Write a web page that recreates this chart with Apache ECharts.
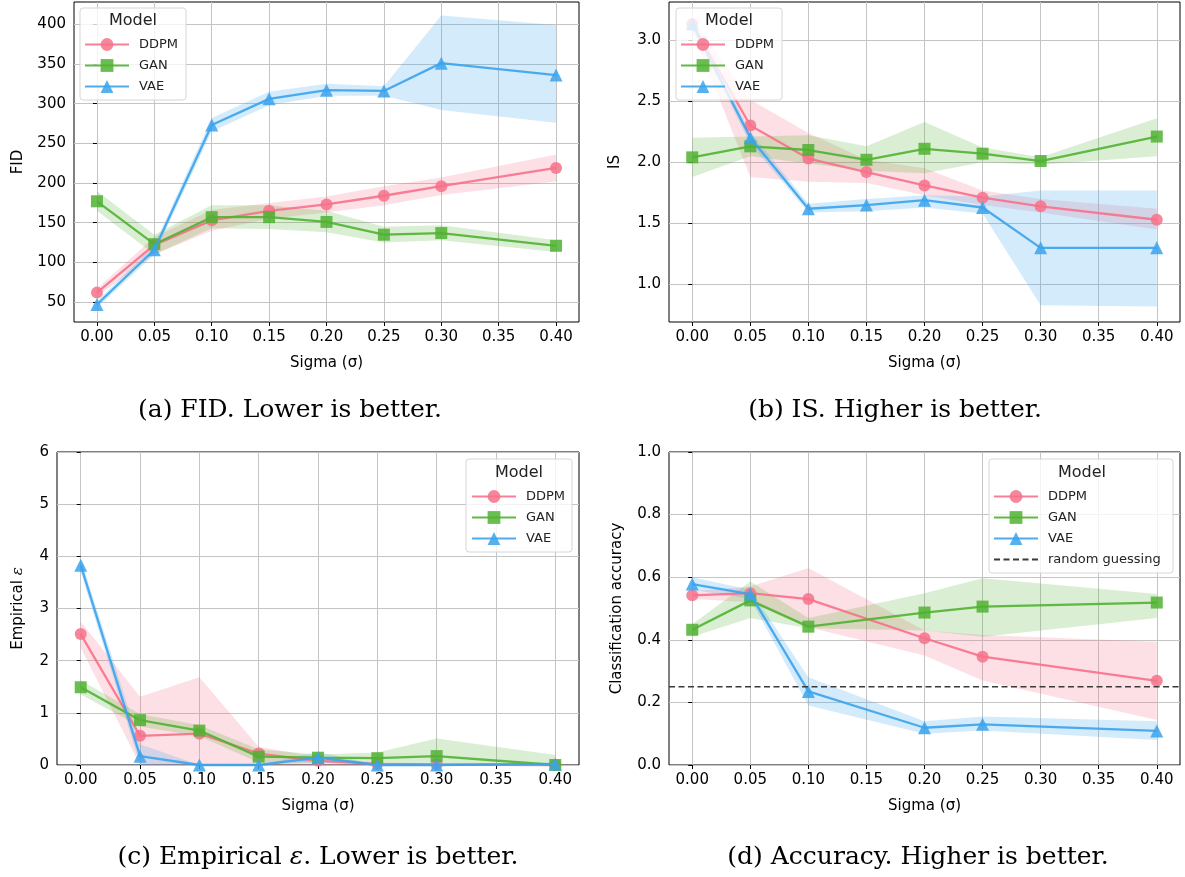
<!DOCTYPE html>
<html>
<head>
<meta charset="utf-8">
<title>Generative models vs sigma</title>
<script src="https://cdn.jsdelivr.net/npm/echarts@6/dist/echarts.min.js"></script>
<style>
  html, body { margin: 0; padding: 0; background: #fff; }
  #chart { width: 1185px; height: 877px; }
</style>
</head>
<body>
<div id="chart"></div>
<script>
// x values (sigma)
const sigmas = [0, 0.05, 0.10, 0.15, 0.20, 0.25, 0.30, 0.40]
const sigmasAcc = [0, 0.05, 0.10, 0.20, 0.25, 0.40]
const xTicks = [0, 0.05, 0.10, 0.15, 0.20, 0.25, 0.30, 0.35, 0.40]

// (a) FID
const fidTicks = [50, 100, 150, 200, 250, 300, 350, 400]
const fidDdpm = [62, 122, 153, 165, 173, 184, 196, 219]
const fidDdpmLo = [57, 110, 140, 155, 163, 172, 185, 202]
const fidDdpmHi = [67, 132, 166, 175, 183, 196, 207, 236]
const fidGan = [177, 123, 157, 157, 151, 135, 137, 121]
const fidGanLo = [165, 110, 143, 142, 138, 125, 128, 113]
const fidGanHi = [190, 135, 172, 172, 165, 145, 147, 128]
const fidVae = [47, 116, 273, 306, 317, 316, 351, 336]
const fidVaeLo = [43, 110, 265, 298, 310, 310, 292, 276]
const fidVaeHi = [51, 122, 282, 315, 325, 322, 411, 399]

// (b) IS
const isTicks = [1.0, 1.5, 2.0, 2.5, 3.0]
const isDdpm = [3.13, 2.30, 2.03, 1.92, 1.81, 1.71, 1.64, 1.53]
const isDdpmLo = [3.08, 1.88, 1.84, 1.83, 1.73, 1.65, 1.59, 1.45]
const isDdpmHi = [3.18, 2.51, 2.24, 2.02, 1.95, 1.77, 1.70, 1.62]
const isGan = [2.04, 2.13, 2.10, 2.02, 2.11, 2.07, 2.01, 2.21]
const isGanLo = [1.88, 2.05, 1.99, 1.93, 1.91, 2.00, 1.98, 2.05]
const isGanHi = [2.20, 2.21, 2.22, 2.13, 2.33, 2.12, 2.04, 2.36]
const isVae = [3.13, 2.20, 1.62, 1.65, 1.69, 1.63, 1.30, 1.30]
const isVaeLo = [3.10, 2.15, 1.59, 1.60, 1.63, 1.58, 0.83, 0.82]
const isVaeHi = [3.16, 2.25, 1.66, 1.70, 1.73, 1.72, 1.77, 1.77]

// (c) empirical epsilon
const epsTicks = [0, 1, 2, 3, 4, 5, 6]
const epsDdpm = [2.51, 0.56, 0.60, 0.22, 0.08, 0.02, 0.01, 0.0]
const epsDdpmLo = [2.25, 0.0, 0.0, 0.0, 0.0, 0.0, 0.0, 0.0]
const epsDdpmHi = [2.75, 1.31, 1.68, 0.35, 0.15, 0.05, 0.03, 0.02]
const epsGan = [1.49, 0.86, 0.66, 0.16, 0.14, 0.13, 0.17, 0.0]
const epsGanLo = [1.35, 0.74, 0.55, 0.05, 0.05, 0.05, 0.0, 0.0]
const epsGanHi = [1.62, 0.98, 0.76, 0.30, 0.20, 0.24, 0.51, 0.19]
const epsVae = [3.83, 0.17, 0.0, 0.0, 0.14, 0.0, 0.0, 0.02]
const epsVaeLo = [3.70, 0.0, 0.0, 0.0, 0.05, 0.0, 0.0, 0.0]
const epsVaeHi = [3.95, 0.40, 0.0, 0.0, 0.25, 0.0, 0.0, 0.04]

// (d) classification accuracy
const accTicks = [0, 0.2, 0.4, 0.6, 0.8, 1.0]
const accDdpm = [0.542, 0.549, 0.530, 0.405, 0.346, 0.269]
const accDdpmLo = [0.53, 0.52, 0.44, 0.35, 0.27, 0.144]
const accDdpmHi = [0.555, 0.57, 0.629, 0.43, 0.415, 0.394]
const accGan = [0.432, 0.526, 0.442, 0.487, 0.506, 0.519]
const accGanLo = [0.41, 0.47, 0.437, 0.43, 0.41, 0.47]
const accGanHi = [0.45, 0.586, 0.47, 0.549, 0.597, 0.546]
const accVae = [0.578, 0.546, 0.235, 0.119, 0.130, 0.109]
const accVaeLo = [0.56, 0.53, 0.19, 0.10, 0.11, 0.08]
const accVaeHi = [0.60, 0.56, 0.28, 0.14, 0.155, 0.14]
const randomGuess = 0.25

const models = ['DDPM', 'GAN', 'VAE']
const colors = { DDPM: '#f77189', GAN: '#50b131', VAE: '#3ba3ec' }
const symbols = { DDPM: 'circle', GAN: 'rect', VAE: 'triangle' }
const symbolSizes = { DDPM: 12, GAN: 12, VAE: 13 }
const FONT = 'DejaVu Sans'
const SERIF = 'DejaVu Serif'

const pairs = (xs, ys) => xs.map((x, i) => [x, ys[i]])

// shaded confidence band drawn as one polygon through the axis scales
const band = (gi, xs, lo, hi, color) => {
  const data = xs.map((x, i) => [x, lo[i], hi[i]])
  return {
    type: 'custom',
    xAxisIndex: gi,
    yAxisIndex: gi,
    silent: true,
    z: 1,
    clip: true,
    data: data,
    encode: { x: 0, y: [1, 2] },
    renderItem: (params, api) => {
      if (params.dataIndex !== 0) return null
      const top = data.map(d => api.coord([d[0], d[2]]))
      const bot = data.map(d => api.coord([d[0], d[1]])).reverse()
      return {
        type: 'polygon',
        shape: { points: top.concat(bot) },
        style: { fill: color, opacity: 0.22 }
      }
    }
  }
}

const line = (gi, name, xs, ys, z) => ({
  type: 'line',
  name: name,
  xAxisIndex: gi,
  yAxisIndex: gi,
  data: pairs(xs, ys),
  symbol: symbols[name],
  symbolSize: symbolSizes[name],
  z: z,
  clip: false,
  lineStyle: { color: colors[name], width: 2.3, opacity: 0.9 },
  itemStyle: { color: colors[name], opacity: 0.85 },
  emphasis: { disabled: true }
})

const panels = [
  { xs: sigmas, d: [fidDdpm, fidGan, fidVae], lo: [fidDdpmLo, fidGanLo, fidVaeLo], hi: [fidDdpmHi, fidGanHi, fidVaeHi] },
  { xs: sigmas, d: [isDdpm, isGan, isVae], lo: [isDdpmLo, isGanLo, isVaeLo], hi: [isDdpmHi, isGanHi, isVaeHi] },
  { xs: sigmas, d: [epsDdpm, epsGan, epsVae], lo: [epsDdpmLo, epsGanLo, epsVaeLo], hi: [epsDdpmHi, epsGanHi, epsVaeHi] },
  { xs: sigmasAcc, d: [accDdpm, accGan, accVae], lo: [accDdpmLo, accGanLo, accVaeLo], hi: [accDdpmHi, accGanHi, accVaeHi] }
]

const series = []
panels.forEach((p, gi) => {
  models.forEach((m, k) => {
    series.push(band(gi, p.xs, p.lo[k], p.hi[k], colors[m]))
  })
  models.forEach((m, k) => {
    series.push(line(gi, m, p.xs, p.d[k], 3 + k))
  })
})
series.push({
  type: 'line',
  name: 'random guessing',
  xAxisIndex: 3,
  yAxisIndex: 3,
  data: [[-0.02, randomGuess], [0.42, randomGuess]],
  symbol: 'none',
  z: 6,
  lineStyle: { color: '#3a3a3a', width: 1.6, type: [6, 3.5] },
  itemStyle: { color: '#3a3a3a' },
  emphasis: { disabled: true }
})

const grids = [
  { left: 74, top: 2, width: 505, height: 320 },
  { left: 669, top: 2, width: 511, height: 320 },
  { left: 57, top: 452, width: 522, height: 313 },
  { left: 669, top: 452, width: 511, height: 313 }
].map(g => Object.assign(g, { show: true, borderColor: '#000', borderWidth: 1, containLabel: false }))

const xAxes = grids.map((g, i) => ({
  type: 'value',
  gridIndex: i,
  min: -0.02,
  max: 0.42,
  name: 'Sigma (σ)',
  nameLocation: 'middle',
  nameGap: 34,
  nameTextStyle: { fontFamily: FONT, fontSize: 15, color: '#000' },
  axisLine: { show: false },
  axisTick: { show: true, length: 4, customValues: xTicks, lineStyle: { color: '#000' } },
  axisLabel: { customValues: xTicks, margin: 8, fontFamily: FONT, fontSize: 15, color: '#000', formatter: v => v.toFixed(2) },
  splitLine: { show: true, lineStyle: { color: '#c4c4c4', width: 1 } }
}))

const yDefs = [
  { min: 25, max: 428, ticks: fidTicks, name: 'FID', gap: 48, fmt: v => String(v) },
  { min: 0.694, max: 3.31, ticks: isTicks, name: 'IS', gap: 46, fmt: v => v.toFixed(1) },
  { min: 0, max: 6, ticks: epsTicks, name: 'Empirical {i|ε}', gap: 31, fmt: v => String(v) },
  { min: 0, max: 1, ticks: accTicks, name: 'Classification accuracy', gap: 44, fmt: v => v.toFixed(1) }
]
const yAxes = yDefs.map((y, i) => ({
  type: 'value',
  gridIndex: i,
  min: y.min,
  max: y.max,
  name: y.name,
  nameLocation: 'middle',
  nameGap: y.gap,
  nameTextStyle: {
    fontFamily: FONT, fontSize: 15, color: '#000',
    rich: { i: { fontFamily: SERIF, fontStyle: 'italic', fontSize: 15, color: '#000' } }
  },
  axisLine: { show: false },
  axisTick: { show: true, length: 4, customValues: y.ticks, lineStyle: { color: '#000' } },
  axisLabel: { customValues: y.ticks, margin: 8, fontFamily: FONT, fontSize: 15, color: '#000', formatter: y.fmt },
  splitLine: { show: true, lineStyle: { color: '#c4c4c4', width: 1 } }
}))

// legend boxes: frame, title, entries
const legendDefs = [
  { box: [80, 8, 106, 92], titleX: 133, titleY: 21, left: 84, top: 38, data: models },
  { box: [676, 8, 106, 92], titleX: 729, titleY: 21, left: 680, top: 38, data: models },
  { box: [466, 459, 106, 93], titleX: 519, titleY: 473, left: 471, top: 490, data: models },
  { box: [989, 459, 184, 114], titleX: 1082, titleY: 473, left: 993, top: 490, data: models.concat([{ name: 'random guessing', itemStyle: { opacity: 0 } }]) }
]
const legends = legendDefs.map(l => ({
  orient: 'vertical',
  left: l.left,
  top: l.top,
  padding: 0,
  itemWidth: 44,
  itemHeight: 16,
  itemGap: 8,
  selectedMode: false,
  z: 12,
  data: l.data,
  textStyle: { fontFamily: FONT, fontSize: 13, color: '#222', padding: [0, 0, 0, 5] }
}))

const graphics = []
legendDefs.forEach(l => {
  graphics.push({
    type: 'rect', z: 10, silent: true,
    shape: { x: l.box[0], y: l.box[1], width: l.box[2], height: l.box[3], r: 3 },
    style: { fill: 'rgba(255,255,255,0.8)', stroke: '#d6d6d6', lineWidth: 1 }
  })
  graphics.push({
    type: 'text', z: 11, silent: true, x: l.titleX, y: l.titleY,
    style: { text: 'Model', fontFamily: FONT, fontSize: 16, fill: '#222', textAlign: 'center', textVerticalAlign: 'middle' }
  })
})

// subfigure captions
const captions = [
  { text: '(a) FID. Lower is better.', x: 290, y: 410 },
  { text: '(b) IS. Higher is better.', x: 895, y: 410 },
  { text: '(c) Empirical {i|ε}. Lower is better.', x: 318, y: 857 },
  { text: '(d) Accuracy. Higher is better.', x: 918, y: 857 }
]
captions.forEach(c => {
  graphics.push({
    type: 'text', silent: true, x: c.x, y: c.y,
    style: {
      text: c.text, fontFamily: SERIF, fontSize: 25, fill: '#000', textAlign: 'center', textVerticalAlign: 'middle',
      rich: { i: { fontFamily: SERIF, fontStyle: 'italic', fontSize: 25, fill: '#000' } }
    }
  })
})

const chart = echarts.init(document.getElementById('chart'), null, { renderer: 'canvas' })
chart.setOption({
  animation: false,
  backgroundColor: '#fff',
  grid: grids,
  xAxis: xAxes,
  yAxis: yAxes,
  legend: legends,
  graphic: graphics,
  series: series
})
</script>
</body>
</html>
